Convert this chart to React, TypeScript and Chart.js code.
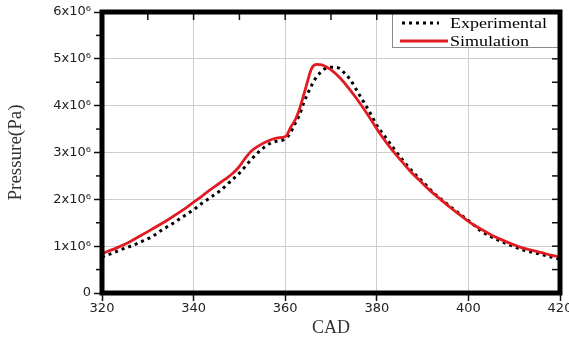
import React, { useEffect, useRef } from 'react';
import { Chart, registerables } from 'chart.js';

Chart.register(...registerables);

// Crank angle (deg) and pressure (in units of 10^6 Pa)
const expCad = [320, 322, 324.3, 326.5, 328.7, 331, 333, 335.2, 337.4, 340.3, 342, 344, 346, 348, 350, 352.5, 354.3, 356.1, 358, 359.8, 360.9, 362, 363.1, 364, 365.5, 366.6, 367.6, 368.7, 370.5, 372, 373.1, 374.2, 375.3, 376.7, 377.8, 378.9, 380, 381.4, 383.6, 385.8, 388, 390.2, 392.4, 394.6, 396.9, 400.6, 402.8, 405, 407.2, 409.4, 411.6, 414, 416, 418, 420];
const expP = [0.77, 0.84, 0.93, 1.01, 1.10, 1.21, 1.34, 1.47, 1.61, 1.80, 1.93, 2.06, 2.20, 2.38, 2.56, 2.84, 3.02, 3.16, 3.24, 3.28, 3.38, 3.59, 3.80, 4.05, 4.38, 4.58, 4.70, 4.79, 4.82, 4.79, 4.68, 4.56, 4.38, 4.15, 3.97, 3.78, 3.58, 3.39, 3.10, 2.82, 2.57, 2.36, 2.14, 1.96, 1.78, 1.50, 1.32, 1.20, 1.10, 1.01, 0.93, 0.87, 0.82, 0.77, 0.72];

const simCad = [320, 323.6, 326, 328, 330, 332.3, 334.5, 336.7, 338.5, 340, 341.7, 343.3, 345, 346.9, 348.5, 349.8, 351, 352.5, 354, 356.1, 358.3, 360.2, 361.2, 362.3, 363.2, 364.4, 365.8, 366.9, 368, 369.8, 372, 374.2, 376.4, 378.6, 380.7, 382.9, 385.1, 387.3, 389.5, 391.7, 393.9, 396.1, 398, 400, 402.8, 405, 407.2, 409.4, 411.6, 414, 416, 418, 420];
const simP = [0.84, 0.98, 1.09, 1.20, 1.31, 1.44, 1.57, 1.71, 1.83, 1.94, 2.06, 2.18, 2.30, 2.43, 2.55, 2.68, 2.84, 3.02, 3.13, 3.24, 3.31, 3.35, 3.54, 3.72, 3.95, 4.35, 4.80, 4.88, 4.87, 4.78, 4.59, 4.33, 4.04, 3.72, 3.40, 3.11, 2.85, 2.60, 2.39, 2.18, 2.00, 1.82, 1.68, 1.53, 1.36, 1.24, 1.14, 1.05, 0.97, 0.91, 0.86, 0.81, 0.77];

const seriesNames = ['Experimental', 'Simulation'];
const xTickValues = [320, 340, 360, 380, 400, 420];
const yTickValues = [0, 1, 2, 3, 4, 5, 6];
const yTickLabels = ['0', '1x10⁶', '2x10⁶', '3x10⁶', '4x10⁶', '5x10⁶', '6x10⁶'];
const xTitle = 'CAD';
const yTitle = 'Pressure(Pa)';

const framePlugin = {
  id: 'frameAndLegend',
  afterDatasetsDraw(chart: any) {
    const { ctx, chartArea: a, scales } = chart;
    const xs = scales.x;
    const ys = scales.y;
    ctx.save();
    // inward ticks on top and right, minor outward ticks on left
    ctx.strokeStyle = '#111';
    ctx.lineWidth = 1.5;
    ctx.setLineDash([]);
    for (let v = xs.min; v <= xs.max + 0.001; v += 10) {
      const px = xs.getPixelForValue(v);
      ctx.beginPath();
      ctx.moveTo(px, a.top);
      ctx.lineTo(px, a.top + 8);
      ctx.stroke();
    }
    for (let v = ys.min; v <= ys.max + 0.001; v += 0.5) {
      const py = ys.getPixelForValue(v);
      ctx.beginPath();
      ctx.moveTo(a.right, py);
      ctx.lineTo(a.right - 8, py);
      ctx.stroke();
      if (v % 1 !== 0) {
        ctx.beginPath();
        ctx.moveTo(a.left, py);
        ctx.lineTo(a.left - 6, py);
        ctx.stroke();
      }
    }
    // legend
    const bw = 168;
    const bh = 35;
    const bx = a.right - bw;
    const by = a.top;
    ctx.fillStyle = '#ffffff';
    ctx.fillRect(bx, by, bw, bh);
    ctx.strokeStyle = '#8a8a8a';
    ctx.lineWidth = 1;
    ctx.strokeRect(bx + 0.5, by + 0.5, bw, bh);
    chart.data.datasets.forEach((ds: any, i: number) => {
      const rowY = by + 11 + i * 18;
      ctx.save();
      ctx.strokeStyle = ds.borderColor;
      ctx.lineWidth = ds.borderWidth;
      ctx.setLineDash(ds.borderDash || []);
      ctx.beginPath();
      ctx.moveTo(bx + (i === 0 ? 10 : 8), rowY);
      ctx.lineTo(bx + (i === 0 ? 47 : 56), rowY);
      ctx.stroke();
      ctx.restore();
      ctx.save();
      ctx.font = '15px "Liberation Serif"';
      ctx.fillStyle = '#000';
      ctx.textBaseline = 'middle';
      ctx.translate(bx + 58, rowY + 1);
      ctx.scale(1.2, 1);
      ctx.fillText(ds.label, 0, 0);
      ctx.restore();
    });
    // thick frame
    ctx.strokeStyle = '#000';
    ctx.lineWidth = 5;
    ctx.strokeRect(a.left, a.top, a.right - a.left, a.bottom - a.top);
    ctx.restore();
  },
};

export default function App() {
  const ref = useRef<HTMLCanvasElement | null>(null);
  useEffect(() => {
    if (!ref.current) return;
    const chart = new Chart(ref.current, {
      type: 'line',
      data: {
        datasets: [
          {
            label: seriesNames[0],
            data: expCad.map((c, i) => ({ x: c, y: expP[i] })),
            borderColor: '#000000',
            backgroundColor: '#000000',
            borderWidth: 3,
            borderDash: [3, 4],
            pointRadius: 0,
            tension: 0.3,
            cubicInterpolationMode: 'monotone',
            order: 1,
          },
          {
            label: seriesNames[1],
            data: simCad.map((c, i) => ({ x: c, y: simP[i] })),
            borderColor: '#e01b22',
            backgroundColor: '#e01b22',
            borderWidth: 2.8,
            pointRadius: 0,
            tension: 0.3,
            cubicInterpolationMode: 'monotone',
            order: 0,
          },
        ],
      },
      options: {
        responsive: false,
        animation: false,
        devicePixelRatio: 1,
        layout: { padding: { top: 12, right: 9, left: 0, bottom: 0 } },
        plugins: {
          legend: { display: false },
          tooltip: { enabled: false },
        },
        scales: {
          x: {
            type: 'linear',
            min: 320,
            max: 420,
            afterBuildTicks: (scale: any) => {
              scale.ticks = xTickValues.map((v) => ({ value: v }));
            },
            afterFit: (scale: any) => {
              scale.height = 46;
              scale.paddingLeft = 0;
              scale.paddingRight = 0;
            },
            grid: {
              color: '#cdcdcd',
              lineWidth: 1,
              tickLength: 8,
              tickColor: '#111',
              tickWidth: 1.5,
            },
            border: { display: false },
            ticks: {
              padding: 0,
              maxRotation: 0,
              color: '#222',
              font: { family: '"DejaVu Sans"', size: 13 },
              callback: (v: any) => String(v),
            },
            title: {
              display: true,
              text: xTitle,
              color: '#333',
              font: { family: '"Liberation Serif"', size: 18 },
              padding: { top: 0, bottom: 0 },
            },
          },
          y: {
            type: 'linear',
            min: 0,
            max: 6,
            afterBuildTicks: (scale: any) => {
              scale.ticks = yTickValues.map((v) => ({ value: v }));
            },
            afterFit: (scale: any) => {
              scale.width = 102;
              scale.paddingTop = 0;
              scale.paddingBottom = 0;
            },
            grid: {
              color: '#cdcdcd',
              lineWidth: 1,
              tickLength: 8,
              tickColor: '#111',
              tickWidth: 1.5,
            },
            border: { display: false },
            ticks: {
              padding: 3,
              color: '#222',
              font: { family: '"DejaVu Sans"', size: 13 },
              callback: (v: any) => yTickLabels[yTickValues.indexOf(Number(v))],
            },
            title: {
              display: true,
              text: yTitle,
              color: '#333',
              font: { family: '"Liberation Serif"', size: 19 },
              padding: { top: 5, bottom: 0 },
            },
          },
        },
      },
      plugins: [framePlugin],
    } as any);
    return () => chart.destroy();
  }, []);
  return (
    <div style={{ position: 'fixed', left: 0, top: 0, width: 569, height: 339, background: '#fff' }}>
      <canvas ref={ref} width={569} height={339} style={{ width: 569, height: 339, display: 'block' }} />
    </div>
  );
}
